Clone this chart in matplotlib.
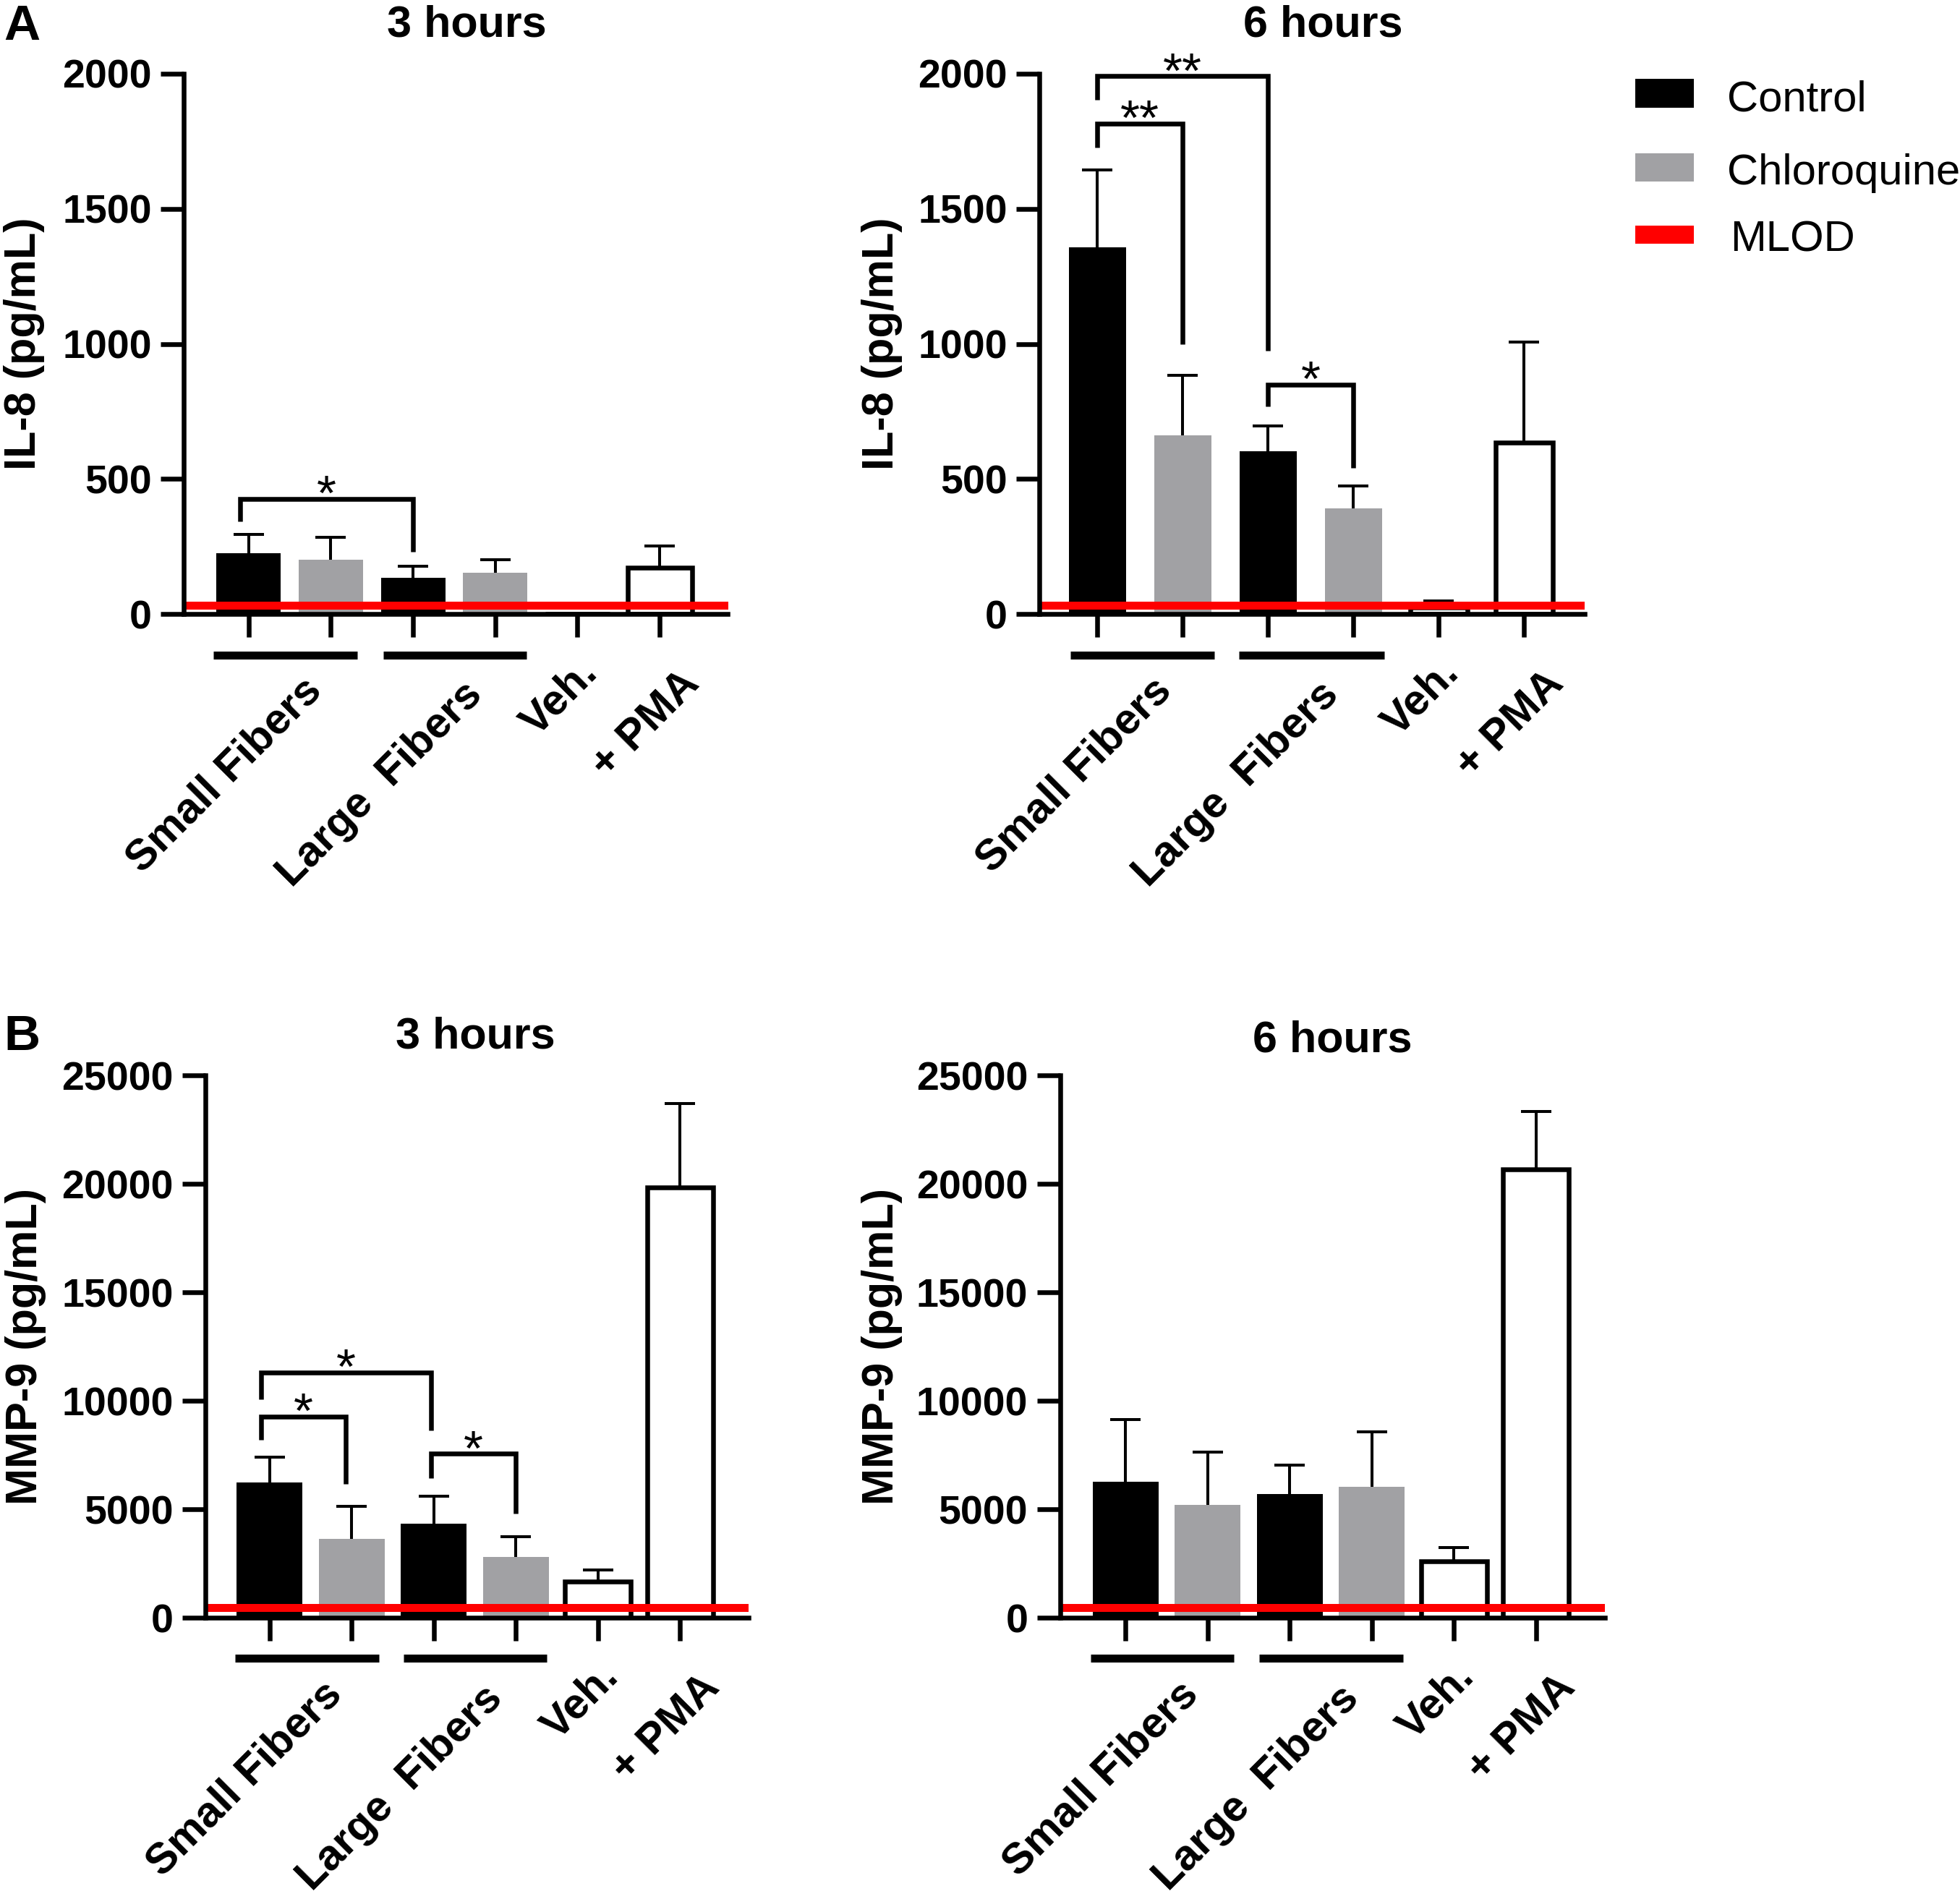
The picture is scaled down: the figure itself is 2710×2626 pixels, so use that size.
import matplotlib
matplotlib.use('Agg')
import numpy as np
import matplotlib.pyplot as plt
from matplotlib.patches import Rectangle
from matplotlib.transforms import ScaledTranslation

plt.rcParams['font.family'] = ['Liberation Sans', 'DejaVu Sans']

W, H, DPI = 2710, 2626, 100

# ---------------- data ----------------
bar_groups = ['Small Fibers', 'Small Fibers', 'Large Fibers', 'Large Fibers', 'Veh.', '+ PMA']
bar_treat = ['Control', 'Chloroquine', 'Control', 'Chloroquine', 'Vehicle', 'PMA']
group_labels = ['Small Fibers', 'Large  Fibers', 'Veh.', '+ PMA']
group_pos = [0.5, 2.5, 4, 5]

il8_3h = [225, 201, 133, 153, 0, 172]
il8_3h_sem = [69, 84, 43, 48, 0, 81]
il8_6h = [1358, 662, 603, 390, 25, 634]
il8_6h_sem = [286, 221, 94, 84, 23, 373]
mmp9_3h = [6220, 3640, 4330, 2790, 1680, 19830]
mmp9_3h_sem = [1190, 1490, 1280, 960, 520, 3870]
mmp9_6h = [6280, 5190, 5700, 6030, 2600, 20670]
mmp9_6h_sem = [2870, 2430, 1340, 2550, 650, 2680]
mlod_il8 = 33
mlod_mmp9 = 460

il8_ticks = [0, 500, 1000, 1500, 2000]
mmp9_ticks = [0, 5000, 10000, 15000, 20000, 25000]

# brackets: (x_left, x_right, y_top, y_left_end, y_right_end, label)
br_il8_3h = [(-0.1, 2.0, 426, 343, 231, '*')]
br_il8_6h = [(0, 1, 1816, 1728, 998, '**'),
             (0, 2, 1991, 1903, 975, '**'),
             (2, 3, 850, 769, 542, '*')]
br_mmp9_3h = [(-0.1, 0.93, 9283, 8192, 6182, '*'),
              (-0.1, 1.97, 11312, 10068, 8632, '*'),
              (1.97, 3.0, 7560, 6431, 4804, '*')]
br_mmp9_6h = []

GRAY = '#a1a1a4'
face = ['black', GRAY, 'black', GRAY, 'white', 'white']

LW = 4.7
fig = plt.figure(figsize=(W / DPI, H / DPI), dpi=DPI)

# label offsets (px right, px down) of the label end relative to group centre
lab_off = [(46, 108), (41, 114), (30, 84), (57, 99)]


def panel(spine_x, right_x, top_y, zero_y, xlim, vals, sem, mlod, ticks,
          bw, brackets, ul, ul_y):
    ax = fig.add_axes([spine_x / W, 1 - zero_y / H,
                       (right_x - spine_x) / W, (zero_y - top_y) / H])
    x = list(range(len(vals)))
    lws = [0, 0, 0, 0, LW, LW]
    ax.bar(x, vals, width=bw, color=face, edgecolor='black', linewidth=lws,
           zorder=1)
    eb = ax.errorbar(x, vals, yerr=[[0] * len(sem), sem], fmt='none',
                     ecolor='black', elinewidth=2.9, capsize=15,
                     capthick=2.9, zorder=2)
    for cap in eb[1]:
        yd = np.asarray(cap.get_ydata(), dtype=float)
        if np.allclose(yd, np.asarray(vals, dtype=float)):
            cap.set_visible(False)
    ax.axhline(mlod, color='#ff0000', lw=7.9, zorder=2.2,
               solid_capstyle='butt')
    ax.set_xlim(*xlim)
    ax.set_ylim(ticks[0], ticks[-1])
    ax.set_yticks(ticks)
    ax.set_xticks(x)
    ax.set_xticklabels([])
    for s in ['top', 'right']:
        ax.spines[s].set_visible(False)
    for s in ['left', 'bottom']:
        ax.spines[s].set_linewidth(LW)
        ax.spines[s].set_zorder(2.5)
    ax.tick_params(axis='both', direction='out', length=23, width=LW,
                   labelsize=40, color='black')
    ax.tick_params(axis='y', pad=9)
    for t in ax.get_yticklabels():
        t.set_fontweight('bold')
    # brackets
    for (x1, x2, yt, y1, y2, lab) in brackets:
        ax.plot([x1, x1, x2, x2], [y1, yt, yt, y2], color='black', lw=LW,
                solid_joinstyle='miter', solid_capstyle='butt',
                clip_on=False, zorder=3)
        ax.annotate(lab, xy=((x1 + x2) / 2, yt), xytext=(0, -11),
                    textcoords='offset points', ha='center', va='baseline',
                    fontsize=50, annotation_clip=False)
    # group underlines
    for (a, b) in ul:
        ax.plot([a, b], [ul_y, ul_y], transform=ax.get_xaxis_transform(),
                color='black', lw=7.9, solid_capstyle='butt', clip_on=False)
    # rotated labels
    for gp, gl, (dx, dy) in zip(group_pos, group_labels, lab_off):
        tr = ax.get_xaxis_transform() + ScaledTranslation(
            dx / DPI, -dy / DPI, fig.dpi_scale_trans)
        ax.text(gp, 0, gl, transform=tr, rotation=45, ha='right',
                va='baseline', rotation_mode='anchor', fontsize=43,
                fontweight='bold')
    return ax


panel(254, 1006.5, 102, 849, (-0.79, 5.83), il8_3h, il8_3h_sem, mlod_il8,
      il8_ticks, 0.785, br_il8_3h, [(-0.425, 1.325), (1.635, 3.38)],
      -56.6 / 747)
panel(1437, 2191, 102, 849, (-0.68, 5.71), il8_6h, il8_6h_sem, mlod_il8,
      il8_ticks, 0.67, br_il8_6h, [(-0.316, 1.37), (1.66, 3.36)],
      -56.6 / 747)
panel(284, 1034.7, 1487, 2237, (-0.78, 5.83), mmp9_3h, mmp9_3h_sem,
      mlod_mmp9, mmp9_ticks, 0.8, br_mmp9_3h,
      [(-0.42, 1.33), (1.63, 3.38)], -55.6 / 750)
panel(1465.6, 2219, 1487, 2237, (-0.80, 5.84), mmp9_6h, mmp9_6h_sem,
      mlod_mmp9, mmp9_ticks, 0.8, br_mmp9_6h,
      [(-0.43, 1.32), (1.63, 3.38)], -55.6 / 750)

# titles
for (tx, ty, tt) in [(645, 50.5, '3 hours'), (1829, 50.5, '6 hours'),
                     (657, 1449, '3 hours'), (1842, 1454.5, '6 hours')]:
    fig.text(tx / W, 1 - ty / H, tt, ha='center', va='baseline',
             fontsize=44, fontweight='bold')

# y labels
for (lx, ly, lt) in [(34, 475.5, 'IL-8 (pg/mL)'), (1220, 475.5, 'IL-8 (pg/mL)'),
                     (36, 1862, 'MMP-9 (pg/mL)'), (1220, 1862, 'MMP-9 (pg/mL)')]:
    fig.text(lx / W, 1 - ly / H, lt, rotation=90, ha='center', va='center',
             fontsize=44, fontweight='bold')

# panel letters
fig.text(5 / W, 1 - 55 / H, 'A', ha='left', va='baseline', fontsize=50,
         fontweight='bold')
fig.text(5 / W, 1 - 1452 / H, 'B', ha='left', va='baseline', fontsize=50,
         fontweight='bold')

# legend
legend_items = [('Control', 'black', 109, 149, 154),
                ('Chloroquine', GRAY, 212, 251, 255),
                ('MLOD', '#ff0000', 312, 337, 347)]
for name, col, y0, y1, base in legend_items:
    fig.add_artist(Rectangle((2261 / W, 1 - y1 / H), 81 / W, (y1 - y0) / H,
                             transform=fig.transFigure, color=col, lw=0))
    fig.text((2388 if name != 'MLOD' else 2392) / W, 1 - base / H, name,
             ha='left', va='baseline', fontsize=43)

fig.savefig('out.png', dpi=DPI)
